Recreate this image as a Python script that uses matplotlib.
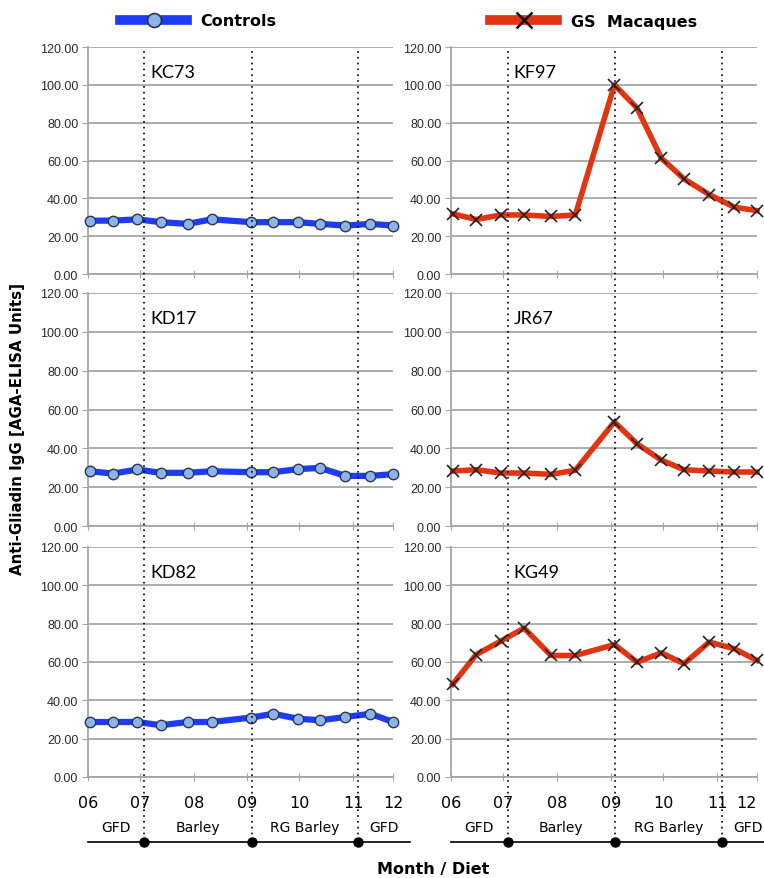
import matplotlib.pyplot as plt
from matplotlib.lines import Line2D

plt.rcParams['font.family'] = 'DejaVu Sans'

# dias desde 1 de junho
dias = [1, 14.5, 28.5, 42, 57.5, 71.5, 94, 107, 121, 134, 148.5, 163, 176]

# controles
kc73 = [28.2, 28.2, 28.9, 27.4, 26.5, 28.9, 27.4, 27.4, 27.4, 26.5, 25.6, 26.5, 25.6]
kd17 = [28.2, 27.0, 29.1, 27.4, 27.4, 28.2, 27.7, 27.7, 29.3, 29.9, 25.8, 25.8, 26.7]
kd82 = [28.7, 28.7, 28.7, 27.0, 28.7, 28.7, 31.0, 33.0, 30.4, 29.6, 31.3, 33.0, 28.7]

# macacos GS
kf97 = [31.8, 28.8, 31.2, 31.2, 30.4, 31.2, 100.0, 87.7, 61.2, 50.3, 42.0, 35.3, 33.5]
jr67 = [28.3, 29.0, 27.3, 27.3, 26.6, 28.7, 53.6, 42.3, 33.9, 29.0, 28.3, 27.8, 27.8]
kg49 = [48.4, 63.9, 70.8, 77.7, 63.4, 63.4, 69.1, 59.9, 64.8, 59.1, 70.4, 66.9, 60.8]

nomes_controle = ['KC73', 'KD17', 'KD82']
nomes_gs = ['KF97', 'JR67', 'KG49']

meses = ['06', '07', '08', '09', '10', '11', '12']
inicio_mes = [0, 30, 61, 92, 122, 153, 176]
dietas = ['GFD', 'Barley', 'RG Barley', 'GFD']
troca_dieta = [32.5, 94.5, 156]

azul = '#1f3cf5'
vermelho = '#e23410'
cinza = '#a6a6a6'

W, H = 764, 879
fig = plt.figure(figsize=(W / 100, H / 100), dpi=100)

colunas = [(88, 305), (451, 306)]
linhas = [(48, 275), (294, 527), (548, 778)]

limites = [0] + troca_dieta + [186]
centros = [(limites[i] + limites[i + 1]) / 2 for i in range(len(dietas))]


def painel(ax, valores, nome, estilo, ultima):
    if estilo == 'controle':
        ax.plot(dias, valores, color=azul, lw=4.5, marker='o', ms=7.5,
                mfc='#8cb4e8', mec='#2a3550', mew=1, clip_on=False, zorder=3)
    else:
        ax.plot(dias, valores, color=vermelho, lw=4, marker='x', ms=8,
                mec='#222222', mew=1.2, clip_on=False, zorder=3)
    ax.set_xlim(0, 176)
    ax.set_ylim(0, 120)
    ax.set_yticks(range(0, 121, 20))
    ax.set_yticklabels([f'{v:.2f}' for v in range(0, 121, 20)],
                       fontfamily='Liberation Sans', fontsize=9, color='#2a2a2a')
    ax.grid(axis='y', color=cinza, lw=1.3)
    ax.set_axisbelow(True)
    for s in ['top', 'right']:
        ax.spines[s].set_visible(False)
    ax.spines['left'].set_color(cinza)
    ax.spines['bottom'].set_color(cinza)
    ax.spines['left'].set_linewidth(1.3)
    ax.spines['bottom'].set_linewidth(1.3)
    ax.tick_params(axis='y', length=4, color=cinza, pad=3)
    ax.set_xticks(inicio_mes)
    ax.tick_params(axis='x', direction='inout', length=6, color=cinza)
    if ultima:
        ax.set_xticklabels(meses, fontsize=11.5)
        ax.tick_params(axis='x', pad=10)
    else:
        ax.tick_params(axis='x', labelbottom=False)
    ax.text(36, 107, nome, fontsize=13, family='Lato', va='center')


grupos = [(nomes_controle, [kc73, kd17, kd82], 'controle'),
          (nomes_gs, [kf97, jr67, kg49], 'gs')]

for j, ((x0, w), (nomes, series, estilo)) in enumerate(zip(colunas, grupos)):
    for i, ((y_top, y_bot), nome, valores) in enumerate(zip(linhas, nomes, series)):
        ax = fig.add_axes([x0 / W, 1 - y_bot / H, w / W, (y_bot - y_top) / H])
        painel(ax, valores, nome, estilo, i == 2)
        if i == 2 and j == 1:
            # o "12" da direita fica colado na borda da figura
            ax.get_xticklabels()[-1].set_horizontalalignment('right')
            ax.get_xticklabels()[-1].set_x(178)

    # linha do tempo das dietas
    ov = fig.add_axes([x0 / W, 0, w / W, 1], zorder=5)
    ov.set_xlim(0, 176)
    ov.set_ylim(H, 0)
    ov.axis('off')
    ov.patch.set_visible(False)
    ov.vlines(troca_dieta, 52, 843, colors='k', lw=1.2, linestyles=[(0, (1, 2.5))])
    ov.plot([0, 186], [843, 843], color='k', lw=1.2, clip_on=False)
    ov.plot(troca_dieta, [843] * len(troca_dieta), 'o', color='k', ms=6.5, clip_on=False)
    for c, d in zip(centros, dietas):
        ov.text(c, 828, d, fontsize=10, ha='center', va='center', clip_on=False)

fig.text(18 / W, 1 - 429 / H, 'Anti-Gliadin IgG [AGA-ELISA Units]', rotation=90,
         fontsize=10.8, fontweight='bold', ha='center', va='center')
fig.text(433 / W, 1 - 870 / H, 'Month / Diet', fontsize=11.5, fontweight='bold',
         ha='center', va='center')

h1 = Line2D([], [], color=azul, lw=7, marker='o', ms=10, mfc='#8cb4e8', mec='#2a3550', mew=1.2)
h2 = Line2D([], [], color=vermelho, lw=7, marker='x', ms=11, mec='#111111', mew=1.8)
for h, rotulo, xa in [(h1, 'Controls', 120), (h2, 'GS  Macaques', 490)]:
    fig.legend(handles=[h], labels=[rotulo], loc='center left',
               bbox_to_anchor=(xa / W, 1 - 22 / H), frameon=False,
               borderaxespad=0, borderpad=0, handlelength=4.2, handletextpad=0.85,
               prop={'weight': 'bold', 'size': 11.5})

fig.savefig('out.png', dpi=100)
